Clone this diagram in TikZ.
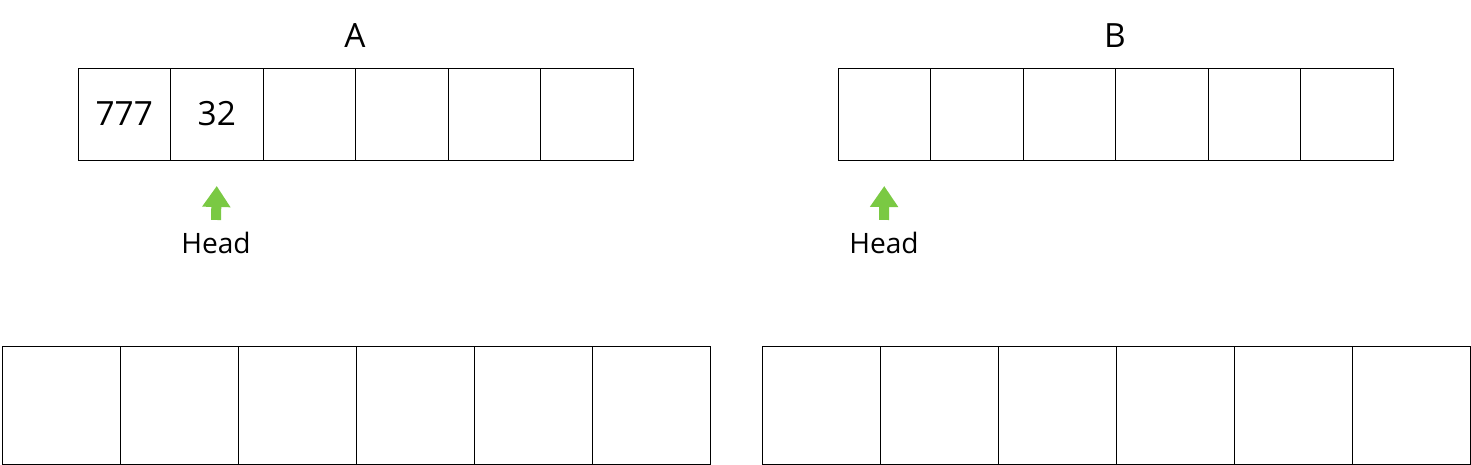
\documentclass[tikz,border=0pt]{standalone}
\usepackage{fontspec}
\setmainfont{Open Sans}
\usetikzlibrary{calc,arrows.meta}
\tikzset{>=Stealth}
\definecolor{headgreen}{HTML}{7AC943}
\tikzset{cell/.style={draw,line width=0.5pt,inner sep=0pt,outer sep=0pt,font=\fontsize{19}{22}\selectfont},
  topcell/.style={cell,minimum width=1.85cm,minimum height=1.84cm},
  lowcell/.style={cell,minimum width=2.36cm,minimum height=2.36cm},
  title/.style={font=\fontsize{19}{22}\selectfont},
  headlbl/.style={font=\fontsize{16}{19}\selectfont},
  headarrow/.style={line width=0.2cm,color=headgreen,-{Triangle[width=0.54cm,length=0.42cm]}}}

\begin{document}
\begin{tikzpicture}[x=0.02cm,y=-0.02cm]
\useasboundingbox (0,0) rectangle (1471,465);
% upper arrays
\foreach \i/\t in {1/777,2/32,3/,4/,5/,6/} {
  \node[topcell] (a\i) at (78+92.5*\i-46.25,114) {\t};
  \node[topcell] (b\i) at (838+92.5*\i-46.25,114) {};
}
% lower arrays
\foreach \i in {1,...,6} {
  \node[lowcell] (c\i) at (2+118*\i-59,405) {};
  \node[lowcell] (d\i) at (762+118*\i-59,405) {};
}
\node[title] (tA) at (355,36) {A};
\node[title] (tB) at (1115,36) {B};
% head markers
\node[headlbl] (hA) at (216,243) {Head};
\node[headlbl] (hB) at (884,243) {Head};
\coordinate (pA) at ($(a2.south)+(0,26)$);
\coordinate (pB) at ($(b1.south)+(0,26)$);
\draw[headarrow] ($(hA.north)+(0,-6)$) -- (pA);
\draw[headarrow] ($(hB.north)+(0,-6)$) -- (pB);
\end{tikzpicture}
\end{document}
